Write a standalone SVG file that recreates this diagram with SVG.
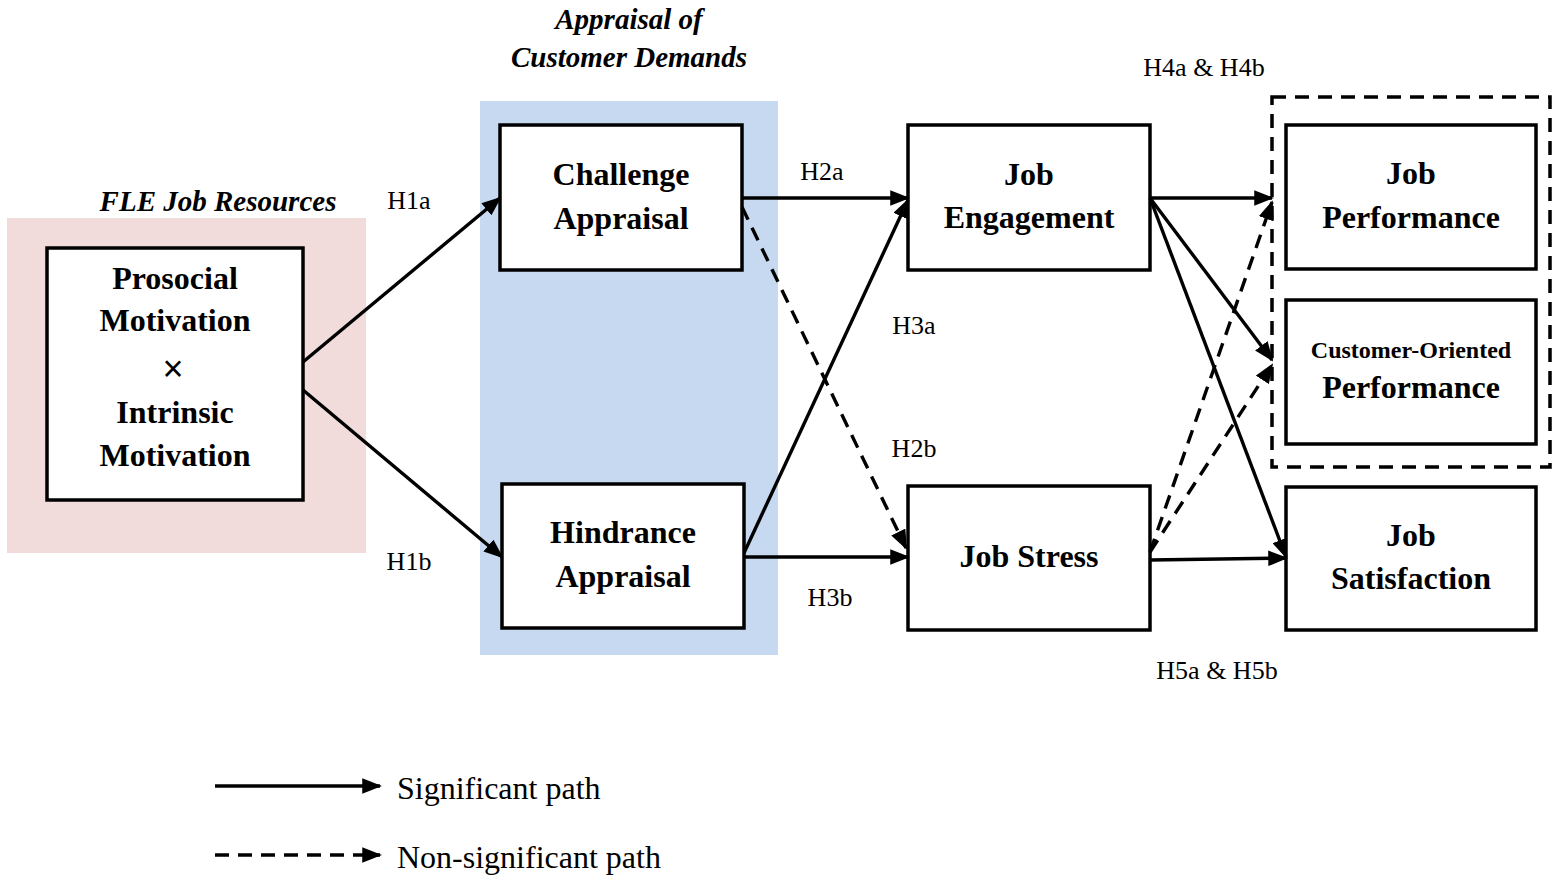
<svg xmlns="http://www.w3.org/2000/svg" width="1561" height="880" viewBox="0 0 1561 880">
<style>
.box{fill:#fff;stroke:#000;stroke-width:3.5}
.bt{font-family:"Liberation Serif",serif;font-weight:bold;font-size:32px;text-anchor:middle}
.sm{font-size:24px}
.lab{font-family:"Liberation Serif",serif;font-size:26px;text-anchor:middle}
.grp{font-family:"Liberation Serif",serif;font-weight:bold;font-style:italic;font-size:29px;text-anchor:middle}
.c{stroke:#000;stroke-width:3.4;fill:none;marker-end:url(#ah)}
.d{stroke-dasharray:14 9}
.leg{font-family:"Liberation Serif",serif;font-size:32px}
</style>
<defs>
<marker id="ah" viewBox="0 0 10 10" refX="9" refY="5" markerWidth="5.8" markerHeight="4.6" orient="auto" markerUnits="strokeWidth" preserveAspectRatio="none">
<path d="M0,0 L10,5 L0,10 z" fill="#000"/>
</marker>
</defs>
<rect width="1561" height="880" fill="#fff"/>
<rect x="7" y="218" width="359" height="335" fill="#f2dbdb"/>
<rect x="480" y="101" width="298" height="554" fill="#c6d9f0"/>
<text class="grp" x="629" y="29">Appraisal of</text>
<text class="grp" x="629" y="67">Customer Demands</text>
<text class="grp" x="218" y="211">FLE Job Resources</text>
<rect x="1272" y="97" width="278" height="370" fill="none" stroke="#000" stroke-width="3.5" stroke-dasharray="14 9"/>
<g id="n-prosocial">
<rect class="box" x="47" y="248" width="256" height="252"/>
<text class="bt" x="175" y="289">Prosocial</text>
<text class="bt" x="175" y="331">Motivation</text>
<text x="173" y="381" font-family="Liberation Sans,sans-serif" font-size="36" text-anchor="middle">×</text>
<text class="bt" x="175" y="423">Intrinsic</text>
<text class="bt" x="175" y="466">Motivation</text>
</g>
<g id="n-challenge">
<rect class="box" x="500" y="125" width="242" height="145"/>
<text class="bt" x="621" y="185">Challenge</text>
<text class="bt" x="621" y="229">Appraisal</text>
</g>
<g id="n-hindrance">
<rect class="box" x="502" y="484" width="242" height="144"/>
<text class="bt" x="623" y="543">Hindrance</text>
<text class="bt" x="623" y="587">Appraisal</text>
</g>
<g id="n-engagement">
<rect class="box" x="908" y="125" width="242" height="145"/>
<text class="bt" x="1029" y="185">Job</text>
<text class="bt" x="1029" y="228">Engagement</text>
</g>
<g id="n-stress">
<rect class="box" x="908" y="486" width="242" height="144"/>
<text class="bt" x="1029" y="567">Job Stress</text>
</g>
<g id="n-performance">
<rect class="box" x="1286" y="125" width="250" height="144"/>
<text class="bt" x="1411" y="184">Job</text>
<text class="bt" x="1411" y="228">Performance</text>
</g>
<g id="n-cop">
<rect class="box" x="1286" y="300" width="250" height="144"/>
<text class="bt sm" x="1411" y="358">Customer-Oriented</text>
<text class="bt" x="1411" y="398">Performance</text>
</g>
<g id="n-satisfaction">
<rect class="box" x="1286" y="487" width="250" height="143"/>
<text class="bt" x="1411" y="546">Job</text>
<text class="bt" x="1411" y="589">Satisfaction</text>
</g>
<g id="connectors">
<line class="c" x1="303" y1="362" x2="500" y2="198"/>
<line class="c" x1="303" y1="390" x2="502" y2="557"/>
<line class="c" x1="742" y1="198" x2="908" y2="198"/>
<line class="c d" x1="742" y1="207" x2="906" y2="548"/>
<line class="c" x1="744" y1="553" x2="908" y2="200"/>
<line class="c" x1="744" y1="557" x2="908" y2="557"/>
<line class="c" x1="1150" y1="198" x2="1272" y2="198"/>
<line class="c" x1="1150" y1="198" x2="1272" y2="360"/>
<line class="c" x1="1150" y1="198" x2="1286" y2="557"/>
<line class="c" x1="1150" y1="560" x2="1286" y2="558"/>
<line class="c d" x1="1150" y1="552" x2="1272" y2="202"/>
<line class="c d" x1="1150" y1="552" x2="1272" y2="365"/>
</g>
<g id="labels">
<text class="lab" x="409" y="209">H1a</text>
<text class="lab" x="409" y="570">H1b</text>
<text class="lab" x="822" y="180">H2a</text>
<text class="lab" x="914" y="334">H3a</text>
<text class="lab" x="914" y="457">H2b</text>
<text class="lab" x="830" y="606">H3b</text>
<text class="lab" x="1204" y="76">H4a &amp; H4b</text>
<text class="lab" x="1217" y="679">H5a &amp; H5b</text>
</g>
<g id="legend">
<line class="c" x1="215" y1="786" x2="380" y2="786"/>
<text class="leg" x="397" y="799">Significant path</text>
<line class="c d" x1="215" y1="855" x2="380" y2="855"/>
<text class="leg" x="397" y="868">Non-significant path</text>
</g>
</svg>
